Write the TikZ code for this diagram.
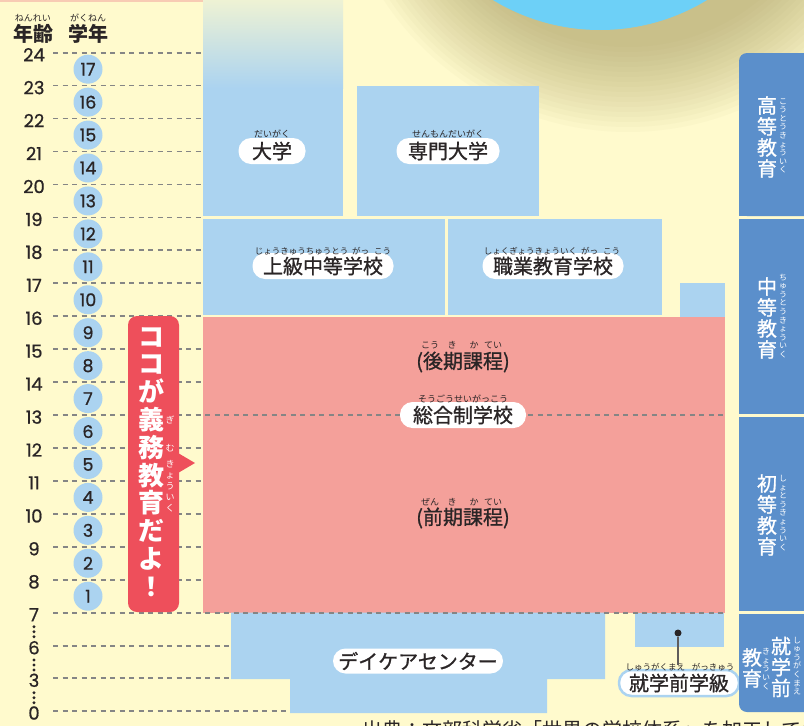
\documentclass[tikz,border=0pt]{standalone}
\usepackage{fontspec}
\setmainfont{Noto Sans CJK JP}
\newfontfamily\jpm{Noto Sans CJK JP}[FakeBold=1]
\newfontfamily\numfont{Poppins}[FakeBold=0.8]
\definecolor{bg}{HTML}{FFFACD}
\definecolor{lblue}{HTML}{ABD3F0}
\definecolor{pinkb}{HTML}{F4A09A}
\definecolor{cred}{HTML}{EE4F5B}
\definecolor{sideblue}{HTML}{5B8FCB}
\definecolor{cyanc}{HTML}{6DD0F7}
\definecolor{shadowc}{HTML}{9A8E50}
\definecolor{dashgray}{HTML}{858585}
\definecolor{tdark}{HTML}{2A2526}
\definecolor{topline}{HTML}{F8CBB4}
\begin{document}
\begin{tikzpicture}[x=1pt,y=-1pt,
  dashline/.style={draw=dashgray, line width=1.7pt, dash pattern=on 5pt off 4.5pt},
  pill/.style={fill=white, rounded corners=12.5pt, minimum height=26pt, inner sep=0pt, font=\jpm\fontsize{20}{20}\selectfont, text=tdark},
  ruby/.style={inner sep=0pt, font=\fontsize{9}{9}\selectfont, text=tdark},
  vruby/.style={inner sep=0pt, align=center, font=\fontsize{8}{8.6}\selectfont, text=white},
  agelab/.style={inner sep=0pt, font=\numfont\fontsize{18}{18}\selectfont, text=tdark},
  gradecirc/.style={circle, fill=lblue, minimum size=29pt, inner sep=0pt, font=\numfont\fontsize{17.5}{17.5}\selectfont, text=tdark},
  sidetext/.style={inner sep=0pt, align=center, font=\jpm\fontsize{20}{21}\selectfont, text=white},
  plain/.style={inner sep=0pt, font=\jpm\fontsize{20}{20}\selectfont, text=tdark},
  dotc/.style={circle, fill=tdark, inner sep=0pt, minimum size=3.2pt}
]
\useasboundingbox (0,0) rectangle (804,726);
\clip (0,0) rectangle (804,726);
\fill[bg] (0,0) rectangle (804,726);
% shadow and circle
\foreach \i in {0,...,17}{\pgfmathsetmacro\rr{292-\i*5}\fill[shadowc,opacity=0.035] (628,-160) circle[radius=\rr pt];}
\fill[cyanc] (600,-176) circle[radius=206pt];
\fill[topline] (0,0) rectangle (278,1.5);
% dashed age lines (under blocks)
\foreach \yy in {52.7,85.6,118.6,151.5,184.5,217.4,250.3,283.3,316.2,349.2,382.1,448.0,480.9,513.9,546.8,579.8}{\draw[dashline] (53,\yy) -- (203,\yy);}
\draw[dashline] (53,645.7) -- (231,645.7);
\draw[dashline] (53,678.3) -- (231,678.3);
\draw[dashline] (53,711) -- (290,711);
% blocks
\shade[top color=bg!80!lblue, bottom color=lblue] (203,0) rectangle (343,88);
\fill[lblue] (203,87.5) rectangle (343,216);
\fill[lblue] (357,85.6) rectangle (539,216);
\fill[lblue] (203,218.5) rectangle (445,315);
\fill[lblue] (448,218.5) rectangle (662,315);
\fill[lblue] (680,283.3) rectangle (725,317);
\fill[pinkb] (203,316.6) rectangle (725,612.7);
\fill[lblue] (231,612.7) -- (605,612.7) -- (605,679) -- (547,679) -- (547,713) -- (290,713) -- (290,679) -- (231,679) -- cycle;
\fill[lblue] (635,612.7) rectangle (724,647);
% dashed lines over blocks
\draw[dashline] (53,415.1) -- (725,415.1);
\draw[dashline] (53,612.7) -- (725,612.7);
% header
\node[inner sep=0pt, font=\bfseries\fontsize{20}{20}\selectfont, text=tdark] (hage) at (33,34) {年齢};
\node[inner sep=0pt, font=\bfseries\fontsize{20}{20}\selectfont, text=tdark] (hgrade) at (88,34) {学年};
\node[ruby] (rage) at (33,18) {ねんれい};
\node[ruby] (rgrade) at (88,18) {がくねん};
% age labels
\foreach \a/\yy in {24/52.7,23/85.6,22/118.6,21/151.5,20/184.5,19/217.4,18/250.3,17/283.3,16/316.2,15/349.2,14/382.1,13/415.1,12/448.0,11/480.9,10/513.9,9/546.8,8/579.8,7/612.7,6/645.7,3/678.3,0/711}{\node[agelab] (age\a) at (34,\yy+2) {\a};}
\foreach \yy in {626.7,631.7,636.7,660,665,670,692.7,697.7,702.7}{\fill[tdark] (34,\yy) circle[radius=1.7pt];}
% grade circles
\foreach \n in {1,...,17}{\pgfmathsetmacro\yy{612.7-(\n-0.5)*32.94}\node[gradecirc] (g\n) at (88,\yy) {\n};}
% pills
\node[pill, minimum width=67pt] (daigaku) at (272,151) {大学};
\node[ruby] at (272,134) {だいがく};
\node[pill, minimum width=103pt] (senmon) at (448,151) {専門大学};
\node[ruby] at (448,134) {せんもんだいがく};
\node[pill, minimum width=141pt] (joukyu) at (323,266) {上級中等学校};
\node[ruby, font=\fontsize{8.5}{8.5}\selectfont] at (323,251) {じょうきゅうちゅうとう\hspace{4pt}がっ\hspace{5pt}こう};
\node[pill, minimum width=141pt] (shokugyo) at (553,266) {職業教育学校};
\node[ruby, font=\fontsize{8.5}{8.5}\selectfont] at (552,251) {しょくぎょうきょういく\hspace{4pt}がっ\hspace{5pt}こう};
\node[plain] (kouki) at (463,362) {(後期課程)};
\node[ruby] at (430,345) {こう};
\node[ruby] at (452,345) {き};
\node[ruby] at (474,345) {か};
\node[ruby] at (493,345) {てい};
\node[pill, minimum width=126pt] (sougou) at (463,415) {総合制学校};
\node[ruby] at (463,399) {そうごうせいがっこう};
\node[plain] (zenki) at (463,518) {(前期課程)};
\node[ruby] at (430,502) {ぜん};
\node[ruby] at (452,502) {き};
\node[ruby] at (474,502) {か};
\node[ruby] at (493,502) {てい};
\node[pill, minimum width=170pt, minimum height=25pt] (daycare) at (418,661) {デイケアセンター};
% preschool class
\node[dotc, minimum size=7pt] (sdot) at (678,633) {};
\node[pill, draw=lblue, line width=2.5pt, minimum width=120pt, minimum height=26pt] (shugaku) at (679,683) {就学前学級};
\node[ruby, font=\fontsize{8.5}{8.5}\selectfont] (rshugaku) at (680,667) {しゅうがくまえ\hspace{7pt}がっきゅう};
\coordinate (send) at (678,665);
\draw[draw=tdark!75, line width=1.5pt] (sdot) -- (send);
% callout
\fill[cred, rounded corners=9pt] (128,316) rectangle (179,612);
\fill[cred] (178,453) -- (195,463) -- (178,473) -- cycle;
\node[inner sep=0pt, align=center, font=\bfseries\fontsize{26}{27.8}\selectfont, text=white] (callout) at (151,462) {コ\\コ\\が\\義\\務\\教\\育\\だ\\よ\\！};
\node[ruby, text=white] at (170,420) {ぎ};
\node[ruby, text=white] at (170,448) {む};
\node[vruby, font=\fontsize{9}{11}\selectfont] at (170,486) {き\\ょ\\う\\い\\く};
% side bars
\fill[sideblue, rounded corners=8pt] (739,53) rectangle (830,216);
\fill[sideblue] (739,190) rectangle (760,216);
\fill[sideblue] (739,219) rectangle (830,414);
\fill[sideblue] (739,416.5) rectangle (830,611);
\fill[sideblue, rounded corners=8pt] (739,614) rectangle (830,712);
\fill[sideblue] (739,614) rectangle (760,640);
\node[sidetext] (koutou) at (767,137) {高\\等\\教\\育};
\node[vruby] at (783,136) {こ\\う\\と\\う\\き\\ょ\\う\\い\\く};
\node[sidetext] (chuutou) at (767,318) {中\\等\\教\\育};
\node[vruby] at (783,316) {ち\\ゅ\\う\\と\\う\\き\\ょ\\う\\い\\く};
\node[sidetext] (shotou) at (767,515) {初\\等\\教\\育};
\node[vruby] at (783,513) {し\\ょ\\と\\う\\き\\ょ\\う\\い\\く};
\node[sidetext] (shugakumae) at (781,667) {就\\学\\前};
\node[sidetext] (kyouiku) at (752,668) {教\\育};
\node[vruby] at (797,666) {し\\ゅ\\う\\が\\く\\ま\\え};
\node[vruby] at (766,669) {き\\ょ\\う\\い\\く};
% source text (cut off at the lower edge, as in the reference)
\node[inner sep=0pt, anchor=north west, font=\fontsize{20}{20}\selectfont, text=tdark] (source) at (362,720) {出典：文部科学省「世界の学校体系」を加工して作成};
\end{tikzpicture}
\end{document}
